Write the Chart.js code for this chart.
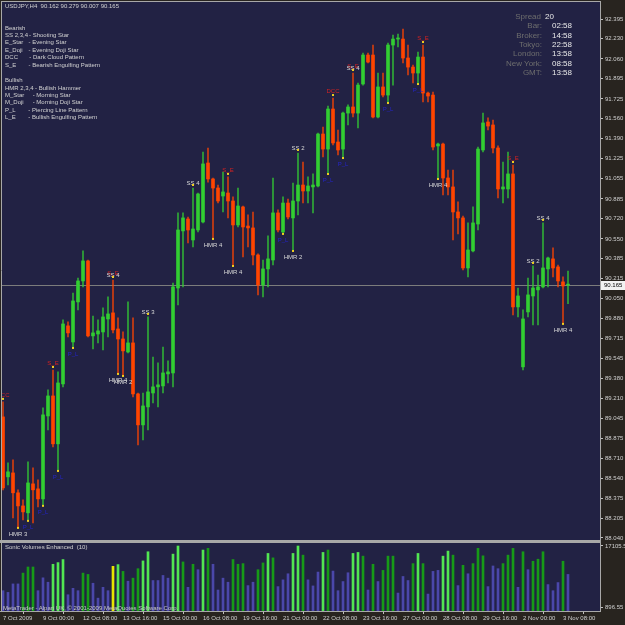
<!DOCTYPE html>
<html><head><meta charset="utf-8"><title>USDJPY H4</title>
<script src="https://cdn.jsdelivr.net/npm/chart.js"></script>
<style>
html,body{margin:0;padding:0;background:#28241f;width:625px;height:625px;overflow:hidden;}
#wrap{position:relative;width:625px;height:625px;}
canvas{position:absolute;left:0;}
#c1{top:0;} #c2{top:541px;}
.t{position:absolute;font-family:'Liberation Sans',Arial,sans-serif;font-size:6px;line-height:7px;color:#d2d2d2;white-space:pre;}
.i{position:absolute;font-family:'Liberation Sans',Arial,sans-serif;font-size:8px;line-height:9px;white-space:pre;}
.il{color:#6e6e6e;right:83px;text-align:right;}
.iv{color:#e8e8e8;left:552px;}
</style></head>
<body><div id="wrap">
<canvas id="c1" width="625" height="541"></canvas>
<canvas id="c2" width="625" height="84"></canvas>

<div class="t" style="left:5px;top:2.5px">USDJPY,H4  90.162 90.279 90.007 90.165</div>
<div class="t" style="left:5px;top:24.5px">Bearish</div>
<div class="t" style="left:5px;top:31.5px">SS 2,3,4</div><div class="t" style="left:29px;top:31.5px">- Shooting Star</div>
<div class="t" style="left:5px;top:38.8px">E_Star</div><div class="t" style="left:28.5px;top:38.8px">- Evening Star</div>
<div class="t" style="left:5px;top:46.5px">E_Doji</div><div class="t" style="left:28.5px;top:46.5px">- Evening Doji Star</div>
<div class="t" style="left:5px;top:53.8px">DCC</div><div class="t" style="left:29.3px;top:53.8px">- Dark Cloud Pattern</div>
<div class="t" style="left:5px;top:61.5px">S_E</div><div class="t" style="left:28.5px;top:61.5px">- Bearish Engulfing Pattern</div>
<div class="t" style="left:5px;top:77.2px">Bullish</div>
<div class="t" style="left:5px;top:84.8px">HMR 2,3,4</div><div class="t" style="left:35px;top:84.8px">- Bullish Hammer</div>
<div class="t" style="left:5px;top:92.2px">M_Star</div><div class="t" style="left:32.7px;top:92.2px">- Morning Star</div>
<div class="t" style="left:5px;top:99.2px">M_Doji</div><div class="t" style="left:32.7px;top:99.2px">- Morning Doji Star</div>
<div class="t" style="left:5px;top:106.5px">P_L</div><div class="t" style="left:28.3px;top:106.5px">- Piercing Line Pattern</div>
<div class="t" style="left:5px;top:114.2px">L_E</div><div class="t" style="left:28.3px;top:114.2px">- Bullish Engulfing Pattern</div>

<div class="i il" style="top:11.8px;right:84px">Spread</div><div class="i" style="left:545px;top:11.8px;color:#e8e8e8">20</div>
<div class="i il" style="top:21.2px">Bar:</div><div class="i iv" style="top:21.2px">02:58</div>
<div class="i il" style="top:30.5px">Broker:</div><div class="i iv" style="top:30.5px">14:58</div>
<div class="i il" style="top:39.8px">Tokyo:</div><div class="i iv" style="top:39.8px">22:58</div>
<div class="i il" style="top:49.2px">London:</div><div class="i iv" style="top:49.2px">13:58</div>
<div class="i il" style="top:58.5px">New York:</div><div class="i iv" style="top:58.5px">08:58</div>
<div class="i il" style="top:67.8px">GMT:</div><div class="i iv" style="top:67.8px">13:58</div>

<div class="t" style="left:5px;top:543.8px">Sonic Volumes Enhanced  (10)</div>
<div class="t" style="left:3px;top:605.2px;color:#c8c8c8">MetaTrader - Alpari UK, © 2001-2009 MetaQuotes Software Corp.</div>
</div>
<script>
// ---- data (USDJPY H4, 7 Oct 2009 16:00 .. 3 Nov 2009 12:00) ----
const opens = [
89.056,88.553,88.586,88.419,88.309,88.251,88.494,88.452,88.368,89.064,
89.232,88.830,89.333,89.820,89.685,90.021,90.197,90.365,89.736,89.752,
89.769,89.878,89.929,89.794,89.710,89.601,89.677,89.249,88.989,89.140,
89.257,89.308,89.316,89.417,89.425,90.138,90.617,90.717,90.541,90.625,
90.692,91.187,91.053,90.977,90.910,90.935,90.868,90.667,90.818,90.658,
90.642,90.415,90.163,90.298,90.373,90.768,90.608,90.851,90.726,90.868,
91.002,90.952,90.986,90.994,91.430,91.304,91.640,91.363,91.304,91.606,
91.657,91.606,91.850,92.093,92.093,91.573,91.825,91.757,92.177,92.227,
92.227,92.068,91.992,91.942,92.076,91.774,91.757,91.330,91.346,91.061,
90.986,90.776,90.726,90.306,90.449,90.675,91.296,91.531,91.506,91.313,
90.969,90.969,91.095,89.979,89.476,89.937,90.071,90.122,90.147,90.298,
90.382,90.315,90.189,90.162];
const highs = [
89.182,88.670,88.695,88.444,88.360,88.679,88.628,88.528,89.132,89.283,
89.450,89.434,89.870,89.853,90.096,90.222,90.449,90.373,89.903,89.870,
89.971,90.063,90.205,89.887,89.769,90.021,89.887,89.257,89.257,89.895,
89.559,89.509,89.643,89.526,90.180,90.768,90.768,90.734,90.977,90.935,
91.279,91.313,91.061,91.002,91.111,91.070,90.902,90.977,90.826,90.751,
90.776,90.424,90.373,90.575,91.061,90.793,90.902,90.885,91.019,91.271,
91.195,91.070,91.095,91.439,91.489,91.665,91.732,91.464,91.615,91.674,
91.942,91.858,92.110,92.110,92.177,91.942,91.942,92.194,92.261,92.269,
92.311,92.177,92.009,92.118,92.177,91.783,91.783,91.355,91.355,91.128,
91.128,90.860,90.742,90.684,90.818,91.321,91.606,91.565,91.548,91.330,
91.195,91.279,91.170,90.138,89.954,90.222,90.323,90.247,90.684,90.398,
90.474,90.331,90.231,90.279];
const lows = [
88.444,88.486,88.209,88.133,88.192,88.192,88.167,88.301,88.318,88.947,
88.804,88.611,89.308,89.727,89.643,89.954,90.147,89.727,89.627,89.677,
89.618,89.727,89.761,89.425,89.408,89.593,89.224,88.821,88.863,88.947,
89.174,89.140,89.257,89.341,89.308,89.996,90.147,90.516,90.482,90.608,
90.684,91.027,90.558,90.851,90.776,90.726,90.331,90.650,90.398,90.482,
90.331,90.080,90.063,90.147,90.331,90.608,90.600,90.717,90.457,90.751,
90.851,90.851,90.768,90.986,91.237,91.103,91.338,91.254,91.237,91.506,
91.573,91.481,91.841,92.026,91.565,91.565,91.741,91.699,91.841,92.160,
92.026,91.925,91.858,91.858,91.699,91.699,91.296,91.061,90.919,90.919,
90.541,90.591,90.289,90.231,90.440,90.625,91.279,91.464,91.271,90.893,
90.851,90.893,89.912,89.895,89.450,89.895,89.828,89.828,90.138,90.147,
90.231,90.147,89.845,90.007];
const closes = [
88.460,88.595,88.419,88.309,88.259,88.502,88.444,88.368,89.073,89.232,
88.830,89.341,89.836,89.761,90.029,90.197,90.365,89.736,89.761,89.778,
89.895,89.920,89.786,89.710,89.610,89.677,89.249,88.989,89.148,89.266,
89.308,89.325,89.425,89.434,90.147,90.625,90.726,90.625,90.633,90.927,
91.179,91.053,90.977,90.868,90.944,90.868,90.667,90.826,90.650,90.642,
90.415,90.163,90.298,90.382,90.768,90.625,90.851,90.734,90.868,91.002,
90.952,90.994,91.002,91.430,91.304,91.640,91.355,91.296,91.606,91.657,
91.606,91.841,92.093,92.034,91.573,91.825,91.757,92.177,92.227,92.236,
92.068,91.992,91.942,92.076,91.774,91.749,91.321,91.346,91.061,90.986,
90.776,90.726,90.306,90.457,90.684,91.304,91.523,91.497,91.313,90.969,
90.986,91.095,89.979,90.071,89.878,90.080,90.138,90.147,90.306,90.390,
90.306,90.197,90.155,90.165];
const volumes = [
5345,4900,7128,7128,9978,11582,11582,5345,8731,7573,
12294,12740,13542,4276,5969,5345,9978,9622,7306,3385,
6236,5345,11760,12205,10424,7840,8642,11136,13185,15591,
8018,8018,9355,8642,14967,17105,12918,6236,12294,10869,
16036,16482,12294,5523,8642,7573,13542,12294,12473,6682,
7573,10869,12651,15146,13987,6414,8196,9800,15146,17105,
14700,8196,6600,10245,15413,16036,10512,5345,7751,10067,
15146,15413,14433,5523,12294,7751,10691,14433,14433,4722,
9087,8018,12473,15146,12473,4455,10424,10691,14433,15769,
14700,6682,12027,9800,12473,16482,14522,6414,11849,11136,
12473,14700,16482,6236,15591,10869,13096,13631,15591,6949,
5345,7484,13096,9622];
// Sonic volume class: P = normal, G = rising, B = climax, Y = churn
const volClass = ('PPPPGGGPPPBBBPPPGGPPPPYBGPGGBBPPPPBBGPGPBGPPPPGGGPPGGBGPPPBBGPPPBGPPPPBBGPGPGGGPPPGBGPPPBBGPGPGGGPPPGGGPGPGGGPPPGP').split('');
const priceTicks = [92.395,92.230,92.060,91.895,91.725,91.560,91.390,91.225,91.055,90.885,90.720,90.550,90.385,90.215,90.050,89.880,89.715,89.545,89.380,89.210,89.045,88.875,88.710,88.540,88.375,88.205,88.040];
const tickBars = [0,8,16,24,32,40,48,56,64,72,80,88,96,104,112];
const tickLabels = ['7 Oct 2009','9 Oct 00:00','12 Oct 08:00','13 Oct 16:00','15 Oct 00:00','16 Oct 08:00','19 Oct 16:00','21 Oct 00:00','22 Oct 08:00','23 Oct 16:00','27 Oct 00:00','28 Oct 08:00','29 Oct 16:00','2 Nov 00:00','3 Nov 08:00'];
const volTicks = [896.55, 17105.55];
const patterns = [
[0,'DCC'],[3,'HMR 3'],[5,'P_L'],[8,'P_L'],[10,'S_E'],[11,'P_L'],[14,'P_L'],
[22,'S_E'],[22,'SS 4'],[23,'HMR 4'],[24,'HMR 2'],[29,'SS 3'],[38,'SS 4'],
[42,'HMR 4'],[45,'S_E'],[46,'HMR 4'],[56,'P_L'],[58,'HMR 2'],[59,'SS 2'],
[65,'P_L'],[66,'DCC'],[68,'P_L'],[70,'S_E'],[70,'SS 4'],[77,'P_L'],[83,'P_L'],
[84,'S_E'],[87,'HMR 4'],[102,'S_E'],[106,'SS 2'],[108,'SS 4'],[112,'HMR 4']];

// ---- rendering ----
const FONT = "'Liberation Sans', Arial, sans-serif";
Chart.defaults.font.family = FONT;
const idx = opens.map((_, i) => i);
const BULL = '#32cd32', BEAR = '#ff4500';
const bodyColors = idx.map(i => closes[i] >= opens[i] ? BULL : BEAR);
const wickColors = idx.map(i => closes[i] >= opens[i] ? 'rgba(50,205,50,0.8)' : 'rgba(255,69,0,0.8)');
const volColor = {P:'#4b47aa', G:'#179a17', B:'#52e652', Y:'#e6e600'};
const X_MIN = -0.2, X_MAX = 119.4;
const OUTER = '#28241f', PLOT = '#222244', FRAME = '#a8a8a8';

const isBullPat = t => /^(HMR|P_L|L_E|M_)/.test(t);
const patColor = t => /^(P_L|L_E|M_)/.test(t) ? '#2525c8' : /^(S_E|DCC|E_)/.test(t) ? '#d42222' : '#d8d8d8';

const bgPlugin = {
  id: 'bg',
  beforeDraw(c) {
    const {ctx, chartArea: a} = c;
    ctx.save();
    ctx.fillStyle = OUTER; ctx.fillRect(0, 0, c.width, c.height);
    ctx.fillStyle = PLOT; ctx.fillRect(a.left, a.top, a.right - a.left, a.bottom - a.top);
    ctx.restore();
  }
};

const mainPlugin = {
  id: 'main',
  beforeDatasetsDraw(c) {
    const {ctx, chartArea: a} = c, ys = c.scales.y;
    const y = Math.round(ys.getPixelForValue(closes[closes.length - 1])) + 0.5;
    ctx.save(); ctx.strokeStyle = '#7c7c7c'; ctx.lineWidth = 1;
    ctx.beginPath(); ctx.moveTo(a.left, y); ctx.lineTo(a.right, y); ctx.stroke(); ctx.restore();
  },
  afterDraw(c) {
    const {ctx, chartArea: a} = c, xs = c.scales.x, ys = c.scales.y;
    ctx.save();
    ctx.beginPath(); ctx.rect(a.left, a.top, a.right - a.left, a.bottom - a.top); ctx.clip();
    ctx.font = '6px ' + FONT; ctx.textAlign = 'center'; ctx.textBaseline = 'middle';
    for (const [i, t] of patterns) {
      const x = xs.getPixelForValue(i);
      const below = isBullPat(t);
      const yv = ys.getPixelForValue(below ? lows[i] : highs[i]);
      ctx.fillStyle = patColor(t);
      const ty = below ? yv + 7 : (/^(S_E|DCC)/.test(t) ? yv - 7 : yv - 5);
      ctx.fillText(t, x, ty);
      ctx.fillStyle = '#f0d020';
      if (below) ctx.fillRect(x - 1, yv, 2, 2); else ctx.fillRect(x - 1, yv - 4, 2, 2);
    }
    ctx.restore();
    // frame
    ctx.save();
    ctx.strokeStyle = FRAME; ctx.lineWidth = 1;
    ctx.beginPath();
    ctx.moveTo(a.left - 0.5, a.top - 0.5); ctx.lineTo(a.right + 0.5, a.top - 0.5);
    ctx.moveTo(a.left - 0.5, a.top - 1); ctx.lineTo(a.left - 0.5, a.bottom);
    ctx.moveTo(a.right + 0.5, a.top - 1); ctx.lineTo(a.right + 0.5, c.height);
    ctx.stroke();
    ctx.fillStyle = FRAME; ctx.fillRect(0, a.bottom, a.right + 1, 1);
    // price box
    const py = ys.getPixelForValue(closes[closes.length - 1]);
    ctx.fillStyle = '#f2f2f2'; ctx.fillRect(a.right + 1, Math.round(py) - 4, 24, 9);
    ctx.fillStyle = '#000000'; ctx.font = '6px ' + FONT; ctx.textAlign = 'left'; ctx.textBaseline = 'middle';
    ctx.fillText(closes[closes.length - 1].toFixed(3), a.right + 4, Math.round(py) + 0.5);
    ctx.restore();
  }
};

const volPlugin = {
  id: 'volframe',
  afterDraw(c) {
    const {ctx, chartArea: a} = c;
    ctx.save();
    ctx.fillStyle = FRAME; ctx.fillRect(0, 0, a.right + 1, 2);
    ctx.strokeStyle = FRAME; ctx.lineWidth = 1; ctx.beginPath();
    ctx.moveTo(a.left - 0.5, 0); ctx.lineTo(a.left - 0.5, a.bottom + 0.5);
    ctx.moveTo(a.right + 0.5, 0); ctx.lineTo(a.right + 0.5, a.bottom + 1);
    ctx.moveTo(0, a.bottom + 0.5); ctx.lineTo(a.right + 1, a.bottom + 0.5);
    ctx.stroke(); ctx.restore();
  }
};

const axisTickFont = {size: 6, family: FONT};

new Chart(document.getElementById('c1'), {
  type: 'bar',
  data: {datasets: [
    {data: idx.map(i => ({x: i, y: [opens[i], closes[i]]})), backgroundColor: bodyColors, barThickness: 3, minBarLength: 1, grouped: false, borderWidth: 0},
    {data: idx.map(i => ({x: i, y: [lows[i], highs[i]]})), backgroundColor: wickColors, barThickness: 1, grouped: false, borderWidth: 0}
  ]},
  options: {
    responsive: false, animation: false, events: [],
    layout: {padding: {left: 2, top: 2, right: 0, bottom: 1}},
    plugins: {legend: {display: false}, tooltip: {enabled: false}},
    scales: {
      x: {type: 'linear', min: X_MIN, max: X_MAX, offset: false, display: false},
      y: {position: 'right', min: 88.023, max: 92.538,
        afterBuildTicks: s => { s.ticks = priceTicks.map(v => ({value: v})); },
        afterFit: s => { s.width = 25; s.paddingTop = 0; s.paddingBottom = 0; },
        ticks: {font: axisTickFont, color: '#d0d0d0', padding: 2, autoSkip: false, callback: v => Number(v).toFixed(3)},
        grid: {drawOnChartArea: false, drawTicks: true, tickLength: 3, color: '#c0c0c0'},
        border: {display: false}}
    }
  },
  plugins: [bgPlugin, mainPlugin]
});

new Chart(document.getElementById('c2'), {
  type: 'bar',
  data: {datasets: [
    {data: idx.map(i => ({x: i, y: volumes[i]})), backgroundColor: volClass.map(k => volColor[k]), barThickness: 2, grouped: false, borderWidth: 0}
  ]},
  options: {
    responsive: false, animation: false, events: [],
    layout: {padding: {left: 2, top: 2, right: 0, bottom: 0}},
    plugins: {legend: {display: false}, tooltip: {enabled: false}},
    scales: {
      x: {type: 'linear', min: X_MIN, max: X_MAX, offset: false, position: 'bottom',
        afterBuildTicks: s => { s.ticks = tickBars.map(v => ({value: v})); },
        afterFit: s => { s.height = 14; s.paddingLeft = 0; s.paddingRight = 0; },
        ticks: {font: axisTickFont, color: '#d0d0d0', padding: 1, align: 'start', autoSkip: false, maxRotation: 0, minRotation: 0,
          callback: (v, i) => tickLabels[i]},
        grid: {drawOnChartArea: false, drawTicks: true, tickLength: 3, color: '#c0c0c0'},
        border: {display: false}},
      y: {position: 'right', min: 0, max: 17895,
        afterBuildTicks: s => { s.ticks = volTicks.map(v => ({value: v})); },
        afterFit: s => { s.width = 25; s.paddingTop = 0; s.paddingBottom = 0; },
        ticks: {font: axisTickFont, color: '#d0d0d0', padding: 2, autoSkip: false, callback: v => Number(v).toFixed(2)},
        grid: {drawOnChartArea: false, drawTicks: true, tickLength: 3, color: '#c0c0c0'},
        border: {display: false}}
    }
  },
  plugins: [bgPlugin, volPlugin]
});
</script>
</body></html>
